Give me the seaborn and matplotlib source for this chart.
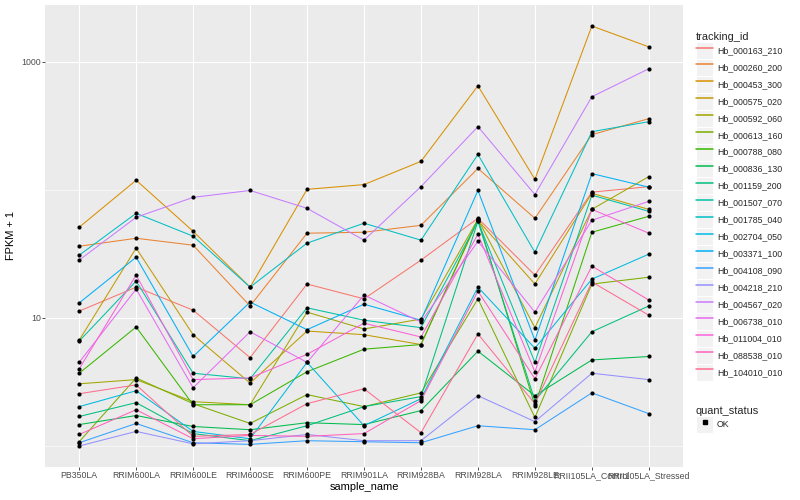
import matplotlib
matplotlib.use('Agg')
import matplotlib.pyplot as plt
from matplotlib.lines import Line2D
from matplotlib.patches import Rectangle
from matplotlib.legend_handler import HandlerLine2D
from matplotlib.ticker import FixedLocator, NullFormatter
import numpy as np
import pandas as pd
import seaborn as sns

samples = ['PB350LA', 'RRIM600LA', 'RRIM600LE', 'RRIM600SE', 'RRIM600PE', 'RRIM901LA',
           'RRIM928BA', 'RRIM928LA', 'RRIM928LE', 'RRII105LA_Control', 'RRII105LA_Stressed']

genes = ['Hb_000163_210', 'Hb_000260_200', 'Hb_000453_300', 'Hb_000575_020', 'Hb_000592_060',
         'Hb_000613_160', 'Hb_000788_080', 'Hb_000836_130', 'Hb_001159_200', 'Hb_001507_070',
         'Hb_001785_040', 'Hb_002704_050', 'Hb_003371_100', 'Hb_004108_090', 'Hb_004218_210',
         'Hb_004567_020', 'Hb_006738_010', 'Hb_011004_010', 'Hb_088538_010', 'Hb_104010_010']

# FPKM per gene, in sample order
fpkm_000163_210 = [10.3, 16.4, 10.5, 3.9, 17.4, 13.1, 27.3, 59.0, 20.6, 95.0, 105.0]
fpkm_000260_200 = [35.3, 40.9, 36.0, 11.4, 44.9, 45.7, 51.9, 146.0, 59.0, 269.0, 359.0]
fpkm_000453_300 = [50.1, 118.0, 46.5, 16.4, 100.0, 109.0, 166.0, 649.0, 120.0, 1904.0, 1308.0]
fpkm_000575_020 = [5.7, 34.1, 6.4, 2.1, 6.9, 6.4, 5.2, 56.9, 17.4, 93.0, 69.5]
fpkm_000592_060 = [2.06, 2.3, 1.22, 1.1, 10.1, 7.2, 8.8, 57.9, 7.4, 69.5, 126.0]
fpkm_000613_160 = [0.08, 2.4, 1.14, 0.5, 1.52, 1.03, 1.6, 13.1, 0.67, 17.4, 19.8]
fpkm_000788_080 = [2.7, 7.5, 1.1, 1.1, 2.8, 4.7, 5.2, 57.9, 1.07, 45.7, 61.2]
fpkm_000836_130 = [0.47, 0.73, 0.42, 0.34, 0.52, 0.47, 0.89, 4.5, 1.47, 3.7, 4.0]
fpkm_001159_200 = [0.70, 1.18, 0.25, 0.10, 0.44, 1.03, 1.43, 55.9, 1.26, 6.8, 11.4]
fpkm_001507_070 = [5.6, 18.4, 2.7, 2.35, 11.0, 8.6, 7.4, 55.9, 3.5, 90.0, 67.0]
fpkm_001785_040 = [29.9, 64.6, 42.5, 16.4, 37.4, 53.9, 39.5, 188.0, 31.6, 284.0, 340.0]
fpkm_002704_050 = [1.03, 1.7, 0.30, 0.14, 3.5, 0.44, 1.34, 16.4, 4.8, 19.1, 30.5]
fpkm_003371_100 = [12.1, 28.8, 4.0, 12.3, 7.1, 11.8, 8.6, 98.0, 5.7, 133.0, 104.0]
fpkm_004108_090 = [0.06, 0.50, 0.06, 0.03, 0.10, 0.08, 0.06, 0.44, 0.34, 1.6, 0.79]
fpkm_004218_210 = [0.0, 0.30, 0.04, 0.10, 0.23, 0.10, 0.10, 1.47, 0.55, 2.7, 2.3]
fpkm_004567_020 = [27.3, 60.1, 86.4, 98.0, 70.8, 39.5, 105.0, 311.0, 91.0, 533.0, 882.0]
fpkm_006738_010 = [3.5, 15.8, 1.85, 6.8, 3.5, 14.1, 8.3, 38.7, 10.1, 56.9, 80.4]
fpkm_011004_010 = [3.0, 20.6, 2.3, 2.4, 4.2, 8.1, 6.1, 44.1, 2.8, 69.5, 44.9]
fpkm_088538_010 = [0.23, 0.92, 0.14, 0.21, 0.19, 0.25, 1.26, 15.2, 2.35, 24.4, 12.8]
fpkm_104010_010 = [1.56, 2.0, 0.19, 0.23, 1.14, 1.8, 0.27, 6.5, 1.14, 18.1, 9.5]

fpkm = [fpkm_000163_210, fpkm_000260_200, fpkm_000453_300, fpkm_000575_020, fpkm_000592_060,
        fpkm_000613_160, fpkm_000788_080, fpkm_000836_130, fpkm_001159_200, fpkm_001507_070,
        fpkm_001785_040, fpkm_002704_050, fpkm_003371_100, fpkm_004108_090, fpkm_004218_210,
        fpkm_004567_020, fpkm_006738_010, fpkm_011004_010, fpkm_088538_010, fpkm_104010_010]

# ggplot2 default hue palette for 20 levels
hue_cols = ['#F8766D', '#EA8331', '#D89000', '#C09B00', '#A3A500', '#7CAE00', '#39B600',
            '#00BB4E', '#00BF7D', '#00C1A3', '#00BFC4', '#00BAE0', '#00B0F6', '#35A2FF',
            '#9590FF', '#C77CFF', '#E76BF3', '#FA62DB', '#FF62BC', '#FF6C91']

rows = []
for g, vals in zip(genes, fpkm):
    for s, v in zip(samples, vals):
        rows.append({'tracking_id': g, 'sample_name': s, 'fpkm': v, 'quant_status': 'OK'})
df = pd.DataFrame(rows)
df['fpkm1'] = df['fpkm'] + 1
df['x'] = df['sample_name'].map({s: i for i, s in enumerate(samples)})

sns.set_theme(style='darkgrid', rc={'axes.facecolor': '#EBEBEB', 'figure.facecolor': 'white'})
plt.rcParams['font.family'] = ['Liberation Sans', 'DejaVu Sans']

fig = plt.figure(figsize=(8, 5), dpi=100)
ax = fig.add_axes([45 / 800, 33 / 500, 638 / 800, 462 / 500])

pal = dict(zip(genes, hue_cols))
sns.lineplot(data=df, x='x', y='fpkm1', hue='tracking_id', palette=pal, linewidth=0.75,
             ax=ax, legend=False, estimator=None, sort=True)
sns.scatterplot(data=df, x='x', y='fpkm1', color='black', s=9, linewidth=0,
                ax=ax, legend=False, zorder=3)

ax.set_yscale('log')
lo, hi = np.log10(df['fpkm1'].min()), np.log10(df['fpkm1'].max())
pad = 0.05 * (hi - lo)
ax.set_ylim(10 ** (lo - pad), 10 ** (hi + pad))
ax.set_xlim(-0.6, len(samples) - 0.4)

ax.set_xticks(range(len(samples)))
ax.set_xticklabels(samples)
ax.set_yticks([10, 1000])
ax.set_yticklabels(['10', '1000'])
ax.yaxis.set_minor_locator(FixedLocator([1, 100]))
ax.yaxis.set_minor_formatter(NullFormatter())

ax.grid(False)
ax.grid(which='major', axis='both', color='white', linewidth=0.8)
ax.grid(which='minor', axis='y', color='white', linewidth=0.4)
ax.set_axisbelow(True)
for sp in ax.spines.values():
    sp.set_visible(False)

ax.tick_params(axis='both', which='major', length=2, width=0.6, color='#333333',
               labelsize=6.3, labelcolor='#4D4D4D', pad=1)
ax.tick_params(axis='y', which='minor', length=0)
ax.tick_params(left=True, bottom=True)

ax.set_xlabel('sample_name', fontsize=7.9, labelpad=1, color='black')
ax.set_ylabel('FPKM + 1', fontsize=7.9, labelpad=4, color='black')


class KeyHandler(HandlerLine2D):
    def create_artists(self, legend, orig_handle, xdescent, ydescent, width, height, fontsize, trans):
        bg = Rectangle((-xdescent, -ydescent), width, height, facecolor='#F2F2F2',
                       edgecolor='white', linewidth=0.8, transform=trans)
        arts = super().create_artists(legend, orig_handle, xdescent, ydescent, width, height,
                                      fontsize, trans)
        return [bg] + list(arts)


leg_kw = dict(loc='upper left', frameon=False, fontsize=6.3, title_fontsize=7.9,
              handlelength=1.95, handleheight=2.6, labelspacing=0, handletextpad=0.45,
              borderpad=0, borderaxespad=0, alignment='left',
              handler_map={Line2D: KeyHandler()})

line_handles = [Line2D([], [], color=c, linewidth=1.1) for c in hue_cols]
leg1 = fig.legend(line_handles, genes, title='tracking_id',
                  bbox_to_anchor=(696 / 800, 1 - 32 / 500), **leg_kw)

ok_handle = Line2D([], [], color='black', marker='s', markersize=2.2, linestyle='none')
leg2 = fig.legend([ok_handle], ['OK'], title='quant_status',
                  bbox_to_anchor=(696 / 800, 1 - 406 / 500), **leg_kw)

fig.savefig('out.png', dpi=100)
